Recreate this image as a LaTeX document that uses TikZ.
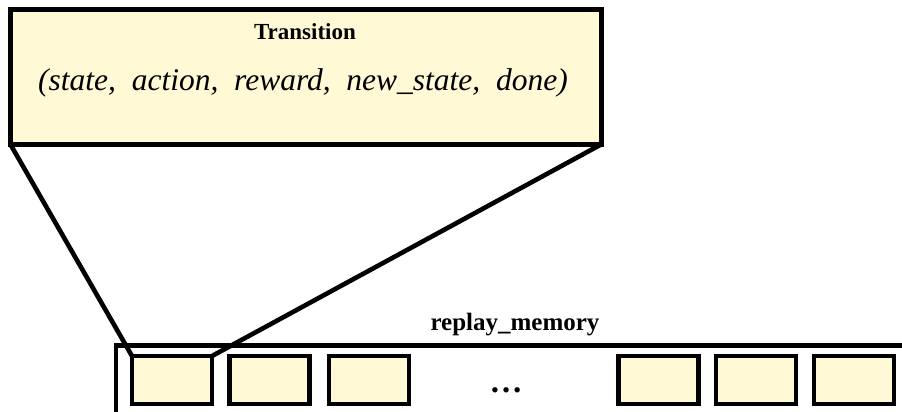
\documentclass[tikz,border=0pt]{standalone}
\usepackage{fontspec}
\setmainfont{Liberation Serif}
\definecolor{cellfill}{HTML}{FFF9D6}
\tikzset{
  framebox/.style={draw=black, line width=5pt, fill=cellfill, inner sep=0pt, outer sep=0pt},
  cellbox/.style={framebox, line width=4.6pt, minimum width=80pt, minimum height=48pt},
  zoomline/.style={draw=black, line width=4.6pt},
  titletext/.style={font=\bfseries\fontsize{22}{26}\selectfont, inner sep=0pt, anchor=base},
}
\begin{document}
\begin{tikzpicture}[x=1pt, y=-1pt]
  \path[use as bounding box, fill=white] (0,0) rectangle (902,412);
  \begin{scope}
    \clip (0,0) rectangle (902,412);
    % memory container, running past the page edges
    \coordinate (memlow) at (116,440);
    \coordinate (memcorner) at (116,345.5);
    \coordinate (memright) at (930,345.5);
    \draw[line width=4.6pt] (memlow) -- (memcorner) -- (memright);

    % the stored transition, enlarged
    \node[framebox, minimum width=590.5pt, minimum height=135pt] (transition) at (305.75,77) {};
    \node[titletext, font=\bfseries\fontsize{23}{27}\selectfont] (ttitle) at (305,40) {Transition};
    \node[inner sep=0pt, anchor=base, font=\itshape\fontsize{31.5}{36}\selectfont] (tuple) at (303,91)
      {(state,\ \ action,\ \ reward,\ \ new\_state,\ \ done)};

    % memory label
    \node[titletext, font=\bfseries\fontsize{25}{30}\selectfont] (memlabel) at (515,330) {replay\_memory};

    % memory cells
    \node[cellbox] (m1) at (172,380) {};
    \node[cellbox] (m2) at (269.5,380) {};
    \node[cellbox] (m3) at (369,380) {};
    \node[inner sep=0pt, anchor=base, font=\bfseries\fontsize{33}{36}\selectfont] (dots) at (506,392) {\symbol{"2026}};
    \node[cellbox] (m4) at (658.5,380) {};
    \node[cellbox] (m5) at (756,380) {};
    \node[cellbox] (m6) at (854,380) {};

    % zoom lines from the first cell up to the enlarged view
    \draw[zoomline] (transition.south west) -- (m1.north west);
    \draw[zoomline] (transition.south east) -- (m1.north east);
  \end{scope}
\end{tikzpicture}
\end{document}
